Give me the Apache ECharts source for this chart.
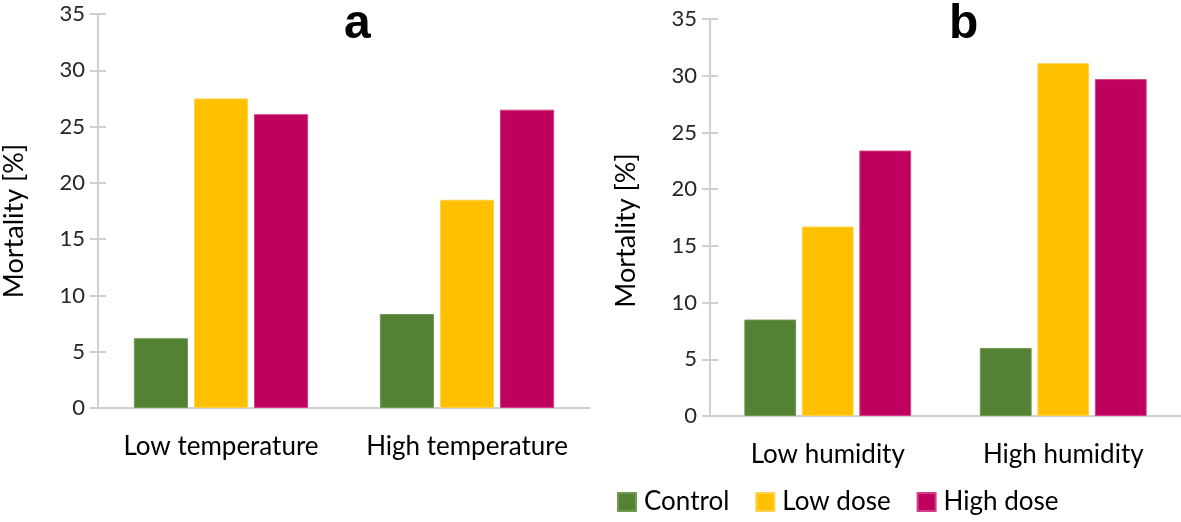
<!DOCTYPE html>
<html><head><meta charset="utf-8">
<script src="https://cdn.jsdelivr.net/npm/echarts@6/dist/echarts.min.js"></script>
<style>html,body{margin:0;padding:0;background:#fff}#c{width:1181px;height:522px}</style>
</head><body><div id="c"></div>
<script>
const catsA = ['Low temperature', 'High temperature'];
const catsB = ['Low humidity', 'High humidity'];
const seriesNames = ['Control', 'Low dose', 'High dose'];
const controlA = [6.2, 8.35];
const lowDoseA = [27.5, 18.5];
const highDoseA = [26.1, 26.5];
const controlB = [8.5, 6.0];
const lowDoseB = [16.7, 31.1];
const highDoseB = [23.4, 29.7];
const colors = ['#548235', '#FFC000', '#C0005F'];
const borders = ['#6f9a50', '#ffd24d', '#d2407f'];

const FONT = 'Lato';
const chart = echarts.init(document.getElementById('c'), null, {renderer: 'canvas'});

function yAx(grid, withLabels, inside, namePad) {
  return {
    type: 'value', gridIndex: grid, min: 0, max: 35, interval: 5, position: 'left', offset: 0,
    name: withLabels ? 'Mortality [%]' : '', nameLocation: 'middle', nameGap: 70,
    nameTextStyle: {fontFamily: FONT, fontSize: 27, color: '#000', padding: [0, namePad || 0, 0, 0]},
    axisLine: {show: true, lineStyle: {color: '#d0d0d0', width: 2}},
    axisTick: {show: true, inside: inside, length: 8, lineStyle: {color: '#d0d0d0', width: 2}},
    axisLabel: {show: withLabels, fontFamily: FONT, fontSize: 22, color: '#262626', margin: 13},
    splitLine: {show: false}
  };
}
function xAx(grid, cats) {
  return {
    type: 'category', gridIndex: grid, data: cats,
    axisLine: {show: true, lineStyle: {color: '#d0d0d0', width: 2}},
    axisTick: {show: false},
    axisLabel: {fontFamily: FONT, fontSize: 26, color: '#000', margin: 26, interval: 0, hideOverlap: false}
  };
}
function bar(i, data, xi, yi) {
  return {
    name: seriesNames[i], type: 'bar', data: data, xAxisIndex: xi, yAxisIndex: yi,
    barWidth: '22%', barGap: '11%', barCategoryGap: '30%',
    itemStyle: {color: colors[i], borderColor: borders[i], borderWidth: 1}
  };
}

chart.setOption({
  animation: false,
  backgroundColor: '#fff',
  title: [
    {text: 'a', left: 339, top: -4, textStyle: {fontFamily: 'Liberation Sans', fontWeight: 'bold', fontSize: 48, color: '#000'}},
    {text: 'b', left: 944, top: -4, textStyle: {fontFamily: 'Liberation Sans', fontWeight: 'bold', fontSize: 48, color: '#000'}}
  ],
  legend: {
    data: seriesNames, bottom: 2, left: 612, itemWidth: 18, itemHeight: 18, itemGap: 26,
    icon: 'rect',
    textStyle: {fontFamily: FONT, fontSize: 26, color: '#000', padding: [0, 0, 0, 3]}
  },
  grid: [
    {left: 97, right: 591, top: 14, bottom: 114},
    {left: 710, right: 0, top: 19, bottom: 106}
  ],
  xAxis: [xAx(0, catsA), xAx(1, catsB)],
  yAxis: [yAx(0, true, false, 20), yAx(1, true, false, 26), yAx(0, false, true), yAx(1, false, true)],
  series: [
    bar(0, controlA, 0, 0), bar(1, lowDoseA, 0, 0), bar(2, highDoseA, 0, 0),
    bar(0, controlB, 1, 1), bar(1, lowDoseB, 1, 1), bar(2, highDoseB, 1, 1)
  ]
});
</script></body></html>
